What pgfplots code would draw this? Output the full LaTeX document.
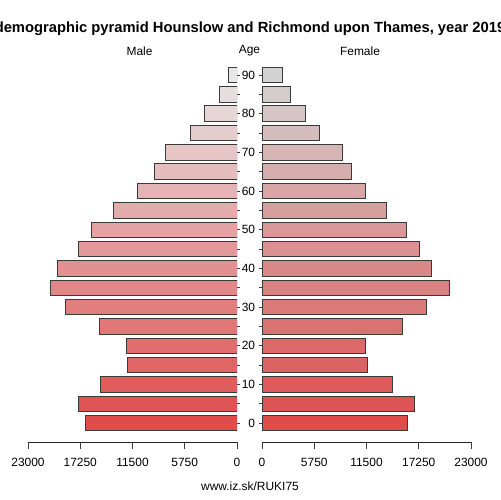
\documentclass[border=0pt]{standalone}
\usepackage{pgfplots}
\pgfplotsset{compat=1.18}
\usepackage{fontspec}
\setmainfont{Liberation Sans}

\definecolor{mred}{RGB}{222,76,76}
\definecolor{mgrey}{RGB}{231,231,231}
\definecolor{fgrey}{RGB}{211,211,211}
\definecolor{edge}{RGB}{58,58,58}

\pgfplotsset{
  pyr/.style={
    scale only axis, width=209bp, height=386bp,
    ymin=-4.9, ymax=94.9,
    xbar, bar width=4, bar shift=0pt,
    axis x line*=bottom, axis y line=none,
    ytick=\empty,
    tick align=outside, major tick length=7.5bp,
    every tick/.style={black!75, line width=0.6bp},
    axis line style={black!85, line width=0.6bp},
    scaled ticks=false,
    tick label style={font=\fontsize{12}{14}\selectfont},
    xticklabel style={inner sep=0pt, anchor=center, yshift=-13bp},
    /pgf/number format/assume math mode=true,
    every axis plot/.append style={draw=edge, line width=0.8bp},
  }
}

\begin{document}
\begin{tikzpicture}[x=1bp, y=1bp]
\path[use as bounding box] (0,0) rectangle (500,500);

\node[font=\fontsize{14.8}{16}\selectfont\bfseries] at (250,471) {demographic pyramid Hounslow and Richmond upon Thames, year 2019};
\node[font=\fontsize{12}{14}\selectfont] at (139.5,449) {Male};
\node[font=\fontsize{12}{14}\selectfont] at (249.5,449) {Age};
\node[font=\fontsize{12}{14}\selectfont] at (360,449) {Female};
\node[font=\fontsize{12}{14}\selectfont] at (250,14) {www.iz.sk/RUKI75};

% male
\begin{axis}[pyr, at={(28bp,58bp)}, anchor=south west,
  xmin=-23000, xmax=0,
  xtick={-23000,-17250,-11500,-5750,0},
  xticklabels={23000,17250,11500,5750,0}]
\addplot[fill=mgrey!0!mred]   coordinates {(-16700,0)};
\addplot[fill=mgrey!6!mred]   coordinates {(-17400,5)};
\addplot[fill=mgrey!11!mred]  coordinates {(-15000,10)};
\addplot[fill=mgrey!17!mred]  coordinates {(-12100,15)};
\addplot[fill=mgrey!22!mred]  coordinates {(-12200,20)};
\addplot[fill=mgrey!28!mred]  coordinates {(-15100,25)};
\addplot[fill=mgrey!33!mred]  coordinates {(-18900,30)};
\addplot[fill=mgrey!39!mred]  coordinates {(-20550,35)};
\addplot[fill=mgrey!44!mred]  coordinates {(-19800,40)};
\addplot[fill=mgrey!50!mred]  coordinates {(-17450,45)};
\addplot[fill=mgrey!56!mred]  coordinates {(-16000,50)};
\addplot[fill=mgrey!61!mred]  coordinates {(-13620,55)};
\addplot[fill=mgrey!67!mred]  coordinates {(-10950,60)};
\addplot[fill=mgrey!72!mred]  coordinates {(-9130,65)};
\addplot[fill=mgrey!78!mred]  coordinates {(-7850,70)};
\addplot[fill=mgrey!83!mred]  coordinates {(-5150,75)};
\addplot[fill=mgrey!89!mred]  coordinates {(-3610,80)};
\addplot[fill=mgrey!94!mred]  coordinates {(-1980,85)};
\addplot[fill=mgrey!100!mred] coordinates {(-920,90)};
\end{axis}

% female
\begin{axis}[pyr, at={(262bp,58bp)}, anchor=south west,
  xmin=0, xmax=23000,
  xtick={0,5750,11500,17250,23000},
  xticklabels={0,5750,11500,17250,23000}]
\addplot[fill=fgrey!0!mred]   coordinates {(15950,0)};
\addplot[fill=fgrey!6!mred]   coordinates {(16760,5)};
\addplot[fill=fgrey!11!mred]  coordinates {(14300,10)};
\addplot[fill=fgrey!17!mred]  coordinates {(11600,15)};
\addplot[fill=fgrey!22!mred]  coordinates {(11350,20)};
\addplot[fill=fgrey!28!mred]  coordinates {(15450,25)};
\addplot[fill=fgrey!33!mred]  coordinates {(18140,30)};
\addplot[fill=fgrey!39!mred]  coordinates {(20620,35)};
\addplot[fill=fgrey!44!mred]  coordinates {(18600,40)};
\addplot[fill=fgrey!50!mred]  coordinates {(17300,45)};
\addplot[fill=fgrey!56!mred]  coordinates {(15870,50)};
\addplot[fill=fgrey!61!mred]  coordinates {(13740,55)};
\addplot[fill=fgrey!67!mred]  coordinates {(11360,60)};
\addplot[fill=fgrey!72!mred]  coordinates {(9830,65)};
\addplot[fill=fgrey!78!mred]  coordinates {(8890,70)};
\addplot[fill=fgrey!83!mred]  coordinates {(6270,75)};
\addplot[fill=fgrey!89!mred]  coordinates {(4750,80)};
\addplot[fill=fgrey!94!mred]  coordinates {(3120,85)};
\addplot[fill=fgrey!100!mred] coordinates {(2260,90)};
\end{axis}

% age ticks in the gap
\begin{axis}[at={(237bp,58bp)}, anchor=south west,
  scale only axis, width=25bp, height=386bp,
  xmin=0, xmax=1, ymin=-4.9, ymax=94.9,
  hide x axis, axis y line=box, y axis line style={draw=none},
  ytick={0,10,...,90}, minor ytick={5,15,...,85},
  ytick pos=both, yticklabel pos=right,
  tick align=inside, major tick length=3.2bp, minor tick length=3.2bp,
  every tick/.style={black!75, line width=0.6bp},
  yticklabel style={font=\fontsize{12}{14}\selectfont, anchor=east, inner sep=0pt, xshift=-6.7bp},
  /pgf/number format/assume math mode=true]
\end{axis}
\end{tikzpicture}
\end{document}
